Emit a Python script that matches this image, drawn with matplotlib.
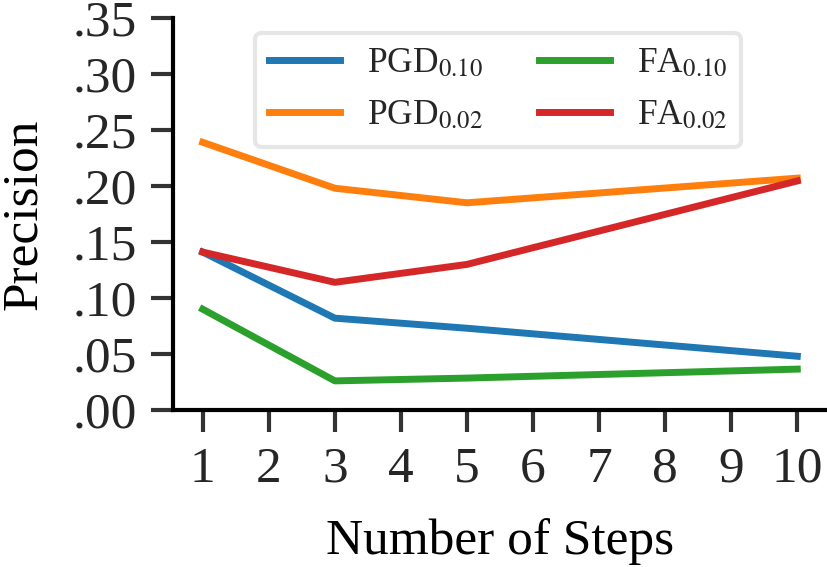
import matplotlib
matplotlib.use("Agg")
import matplotlib.pyplot as plt
from matplotlib.ticker import FuncFormatter

plt.rcParams['font.family'] = ['Liberation Serif', 'DejaVu Serif']
plt.rcParams['mathtext.fontset'] = 'stix'

steps = [1, 3, 5, 10]
pgd_010 = [0.141, 0.082, 0.073, 0.048]
pgd_002 = [0.239, 0.198, 0.185, 0.207]
fa_010 = [0.090, 0.026, 0.0285, 0.0365]
fa_002 = [0.141, 0.114, 0.130, 0.2045]

series = [
    ("PGD$_{0.10}$", pgd_010, "tab:blue"),
    ("PGD$_{0.02}$", pgd_002, "tab:orange"),
    ("FA$_{0.10}$", fa_010, "tab:green"),
    ("FA$_{0.02}$", fa_002, "tab:red"),
]

fig = plt.figure(figsize=(8.27, 5.67), dpi=100)
ax = fig.add_axes([173 / 827, 157 / 567, 654 / 827, 392 / 567])

for label, vals, color in series:
    ax.plot(steps, vals, color=color, lw=5, label=label)

ax.set_xlim(0.55, 10.45)
ax.set_ylim(0, 0.35)
ax.set_xticks(range(1, 11))
ax.set_yticks([0, 0.05, 0.10, 0.15, 0.20, 0.25, 0.30, 0.35])
ax.yaxis.set_major_formatter(FuncFormatter(lambda v, p: f"{v:.2f}"[1:]))

for side in ["top", "right"]:
    ax.spines[side].set_visible(False)
for side in ["left", "bottom"]:
    ax.spines[side].set_linewidth(3)
    ax.spines[side].set_color("black")

ax.tick_params(axis="both", labelsize=37, length=16, width=3,
               color="#333333", labelcolor="#262626", pad=10)

ax.set_xlabel("Number of Steps", fontsize=37, labelpad=18)
ax.set_ylabel("Precision", fontsize=37, labelpad=18)

leg = ax.legend(ncol=2, fontsize=25.5, loc="upper left",
                bbox_to_anchor=(255 / 827, 1 - 33 / 567),
                bbox_transform=fig.transFigure, borderaxespad=0,
                handlelength=2.0, handletextpad=0.75, columnspacing=1.6,
                borderpad=0.4, labelspacing=0.55, fancybox=True)
leg.get_frame().set_edgecolor("#e6e6e6")
leg.get_frame().set_linewidth(3)
leg.get_frame().set_alpha(1)
for t in leg.get_texts():
    t.set_color("#262626")

fig.savefig("out.png", dpi=100)
